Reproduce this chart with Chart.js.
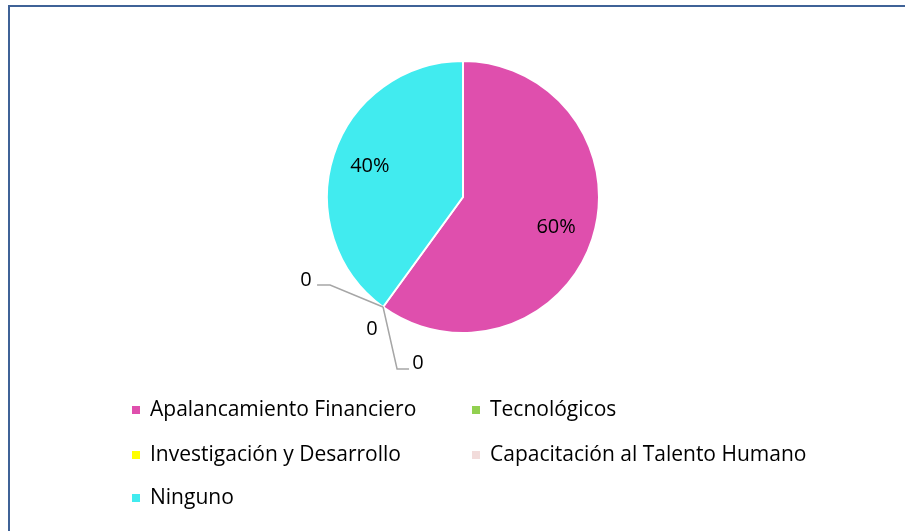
<!DOCTYPE html>
<html>
<head>
<meta charset="utf-8">
<script src="https://cdn.jsdelivr.net/npm/chart.js@4/dist/chart.umd.min.js"></script>
<style>
html,body{margin:0;padding:0;background:#fff;overflow:hidden;}
#frame{position:absolute;left:8px;top:5px;width:1000px;height:1000px;border-left:2px solid #3f6297;border-top:2px solid #3f6297;}
#wrap{position:absolute;left:0;top:0;width:905px;height:531px;}
</style>
</head>
<body>
<div id="frame"></div>
<div id="wrap"><canvas id="myChart"></canvas></div>
<script>
// data
var labels = ["Apalancamiento Financiero", "Tecnológicos", "Investigación y Desarrollo", "Capacitación al Talento Humano", "Ninguno"];
var values = [60, 0, 0, 0, 40];
var sliceColors = ["#df4fad", "#92d050", "#ffff00", "#f2dcdb", "#41ebef"];

var FONT = "'Open Sans', 'Noto Sans', sans-serif";

// leader lines for the zero slices (offsets from the slice point on the rim)
var zeroLeaders = {
  1: {line: [[-53, -22], [-66, -22]], text: [-77, -27]},
  2: {line: null, text: [-11, 22]},
  3: {line: [[14, 62], [26, 62]], text: [35, 56]}
};

// pie labels
var pieLabels = {
  id: "pieLabels",
  afterDatasetsDraw: function(chart) {
    var ctx = chart.ctx;
    var meta = chart.getDatasetMeta(0);
    ctx.save();
    ctx.font = "20px " + FONT;
    ctx.fillStyle = "#000";
    ctx.textAlign = "center";
    ctx.textBaseline = "middle";
    meta.data.forEach(function(arc, i) {
      var v = values[i];
      if (v > 0) {
        var mid = (arc.startAngle + arc.endAngle) / 2;
        var r = arc.outerRadius * 0.72;
        ctx.fillText(v + "%", arc.x + Math.cos(mid) * r, arc.y + Math.sin(mid) * r);
      } else {
        var px = arc.x + Math.cos(arc.endAngle) * arc.outerRadius;
        var py = arc.y + Math.sin(arc.endAngle) * arc.outerRadius;
        var ld = zeroLeaders[i];
        if (ld.line) {
          ctx.strokeStyle = "#a6a6a6";
          ctx.lineWidth = 1.5;
          ctx.beginPath();
          ctx.moveTo(px, py);
          ld.line.forEach(function(p) { ctx.lineTo(px + p[0], py + p[1]); });
          ctx.stroke();
        }
        ctx.fillText(String(v), px + ld.text[0], py + ld.text[1]);
      }
    });
    ctx.restore();
  }
};

// legend in two columns
var gridLegend = {
  id: "gridLegend",
  afterDraw: function(chart) {
    var ctx = chart.ctx;
    var colX = [132, 472];
    var rowY = [410, 455, 498];
    ctx.save();
    ctx.font = "21px " + FONT;
    ctx.textBaseline = "middle";
    ctx.textAlign = "left";
    labels.forEach(function(lab, i) {
      var x = colX[i % 2];
      var y = rowY[Math.floor(i / 2)];
      ctx.fillStyle = sliceColors[i];
      ctx.fillRect(x, y - 4, 8, 8);
      ctx.fillStyle = "#000";
      ctx.fillText(lab, x + 18, y);
    });
    ctx.restore();
  }
};

new Chart("myChart", {
  type: "pie",
  data: {
    labels: labels,
    datasets: [{
      data: values,
      backgroundColor: sliceColors,
      borderColor: "#ffffff",
      borderWidth: 2,
      hoverOffset: 0
    }]
  },
  options: {
    responsive: true,
    maintainAspectRatio: false,
    animation: false,
    layout: {padding: {top: 60, bottom: 197, left: 21, right: 0}},
    plugins: {
      legend: {display: false},
      tooltip: {enabled: false}
    }
  },
  plugins: [pieLabels, gridLegend]
});
</script>
</body>
</html>
